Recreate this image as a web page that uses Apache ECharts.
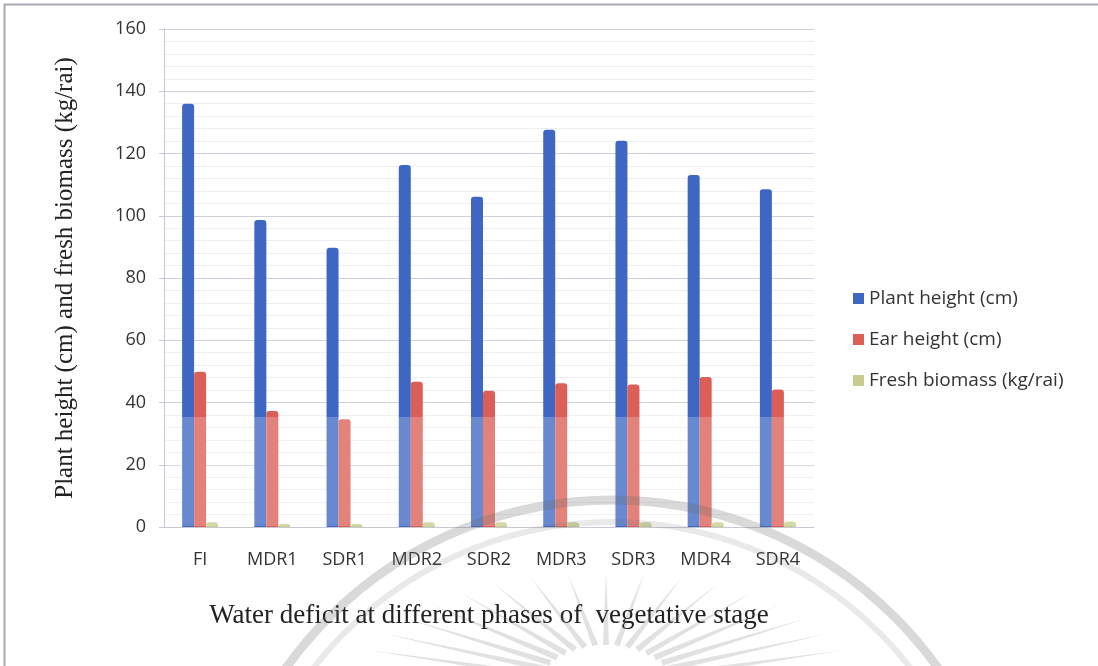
<!DOCTYPE html>
<html>
<head>
<meta charset="utf-8">
<script src="https://cdn.jsdelivr.net/npm/echarts@6/dist/echarts.min.js"></script>
<style>
  html, body { margin: 0; padding: 0; background: #fff; }
  #chart { width: 1098px; height: 666px; }
</style>
</head>
<body>
<div id="chart"></div>
<script>
// Treatments: full irrigation and moderate/severe deficit at four vegetative phases
const categories = ['FI', 'MDR1', 'SDR1', 'MDR2', 'SDR2', 'MDR3', 'SDR3', 'MDR4', 'SDR4'];
const plantHeight = [136.0, 98.6, 89.7, 116.3, 106.1, 127.6, 124.1, 113.1, 108.5];
const earHeight = [49.9, 37.3, 34.6, 46.7, 43.8, 46.2, 45.8, 48.2, 44.2];
const freshBiomass = [1.5, 1.0, 1.0, 1.5, 1.5, 1.5, 1.5, 1.5, 1.8];
const seriesNames = ['Plant height (cm)', 'Ear height (cm)', 'Fresh biomass (kg/rai)'];
const yTicks = [0, 20, 40, 60, 80, 100, 120, 140, 160];

const sansFont = '"Open Sans", Lato, sans-serif';
const serifFont = '"Liberation Serif", "DejaVu Serif", serif';

const chart = echarts.init(document.getElementById('chart'), null, { renderer: 'canvas' });

function barSeries(name, data, color) {
  return {
    name: name,
    type: 'bar',
    data: data,
    barWidth: 12,
    barGap: '0%',
    itemStyle: { color: color, borderRadius: [3, 3, 0, 0] },
    emphasis: { disabled: true }
  };
}

// Faint university seal behind the lower part of the figure: two rings and a sunburst
const ringCx = 612, ringCy = 900;
const sunCx = 606, sunCy = 690;
const sealRays = [];
for (let i = 0; i < 19; i++) {
  const a = Math.PI * (1.06 + i * 0.88 / 18);
  const c = Math.cos(a), s = Math.sin(a);
  const x1 = sunCx + c * 70, y1 = sunCy + s * 45;
  const x2 = sunCx + c * 250, y2 = sunCy + s * 118;
  // perpendicular half-width at the inner end, tapering to a point outside
  const dx = x2 - x1, dy = y2 - y1, len = Math.hypot(dx, dy);
  const px = -dy / len * 3, py = dx / len * 3;
  sealRays.push({
    type: 'polygon',
    silent: true,
    z: 100,
    shape: { points: [[x1 + px, y1 + py], [x2, y2], [x1 - px, y1 - py]] },
    style: { fill: 'rgba(120,120,120,0.22)' }
  });
}

chart.setOption({
  animation: false,
  backgroundColor: '#fff',
  grid: { left: 164, right: 284, top: 29, bottom: 139, containLabel: false },
  legend: {
    orient: 'vertical',
    left: 848,
    top: 284,
    itemGap: 22,
    itemWidth: 11,
    itemHeight: 11,
    icon: 'rect',
    data: seriesNames,
    textStyle: { fontFamily: sansFont, fontSize: 19, color: '#333' }
  },
  xAxis: {
    type: 'category',
    data: categories,
    name: 'Water deficit at different phases of  vegetative stage',
    nameLocation: 'middle',
    nameGap: 75,
    nameTextStyle: { fontFamily: serifFont, fontSize: 27, color: '#222' },
    axisLine: { lineStyle: { color: '#c8c8d4' } },
    axisTick: { show: false },
    axisLabel: { fontFamily: sansFont, fontSize: 18, color: '#333', margin: 24 }
  },
  yAxis: {
    type: 'value',
    min: 0,
    max: 160,
    interval: 20,
    name: 'Plant height (cm) and fresh biomass (kg/rai)',
    nameLocation: 'middle',
    nameGap: 86,
    nameTextStyle: { fontFamily: serifFont, fontSize: 25, color: '#222' },
    axisLine: { show: true, lineStyle: { color: '#c8c8d4' } },
    axisTick: { show: true, length: 5, lineStyle: { color: '#c8c8d4' } },
    axisLabel: {
      fontFamily: sansFont, fontSize: 18, color: '#333', margin: 18,
      formatter: v => (yTicks.indexOf(v) >= 0 ? String(v) : '')
    },
    splitLine: { lineStyle: { color: '#cfcfdc', width: 1 } },
    minorTick: { show: false, splitNumber: 5 },
    minorSplitLine: { show: true, lineStyle: { color: '#ededf2', width: 1 } }
  },
  series: [
    barSeries(seriesNames[0], plantHeight, '#3e67c3'),
    barSeries(seriesNames[1], earHeight, '#dc5f57'),
    barSeries(seriesNames[2], freshBiomass, '#c8cc8e')
  ],
  graphic: [
    // outer frame
    { type: 'rect', silent: true, z: 0, shape: { x: 4.5, y: 4.5, width: 1100, height: 700 },
      style: { fill: 'none', stroke: '#a9a9b2', lineWidth: 2 } },
    // pale band over the lower part of the plot
    { type: 'rect', silent: true, z: 90, shape: { x: 166, y: 417, width: 646, height: 109 },
      style: { fill: 'rgba(255,255,255,0.22)' } },
    // seal rings
    { type: 'circle', silent: true, z: 100, shape: { cx: ringCx, cy: ringCy, r: 400 },
      style: { fill: 'none', stroke: 'rgba(110,110,110,0.26)', lineWidth: 9 } },
    { type: 'circle', silent: true, z: 100, shape: { cx: ringCx, cy: ringCy, r: 378 },
      style: { fill: 'none', stroke: 'rgba(110,110,110,0.15)', lineWidth: 6 } }
  ].concat(sealRays)
});
</script>
</body>
</html>
